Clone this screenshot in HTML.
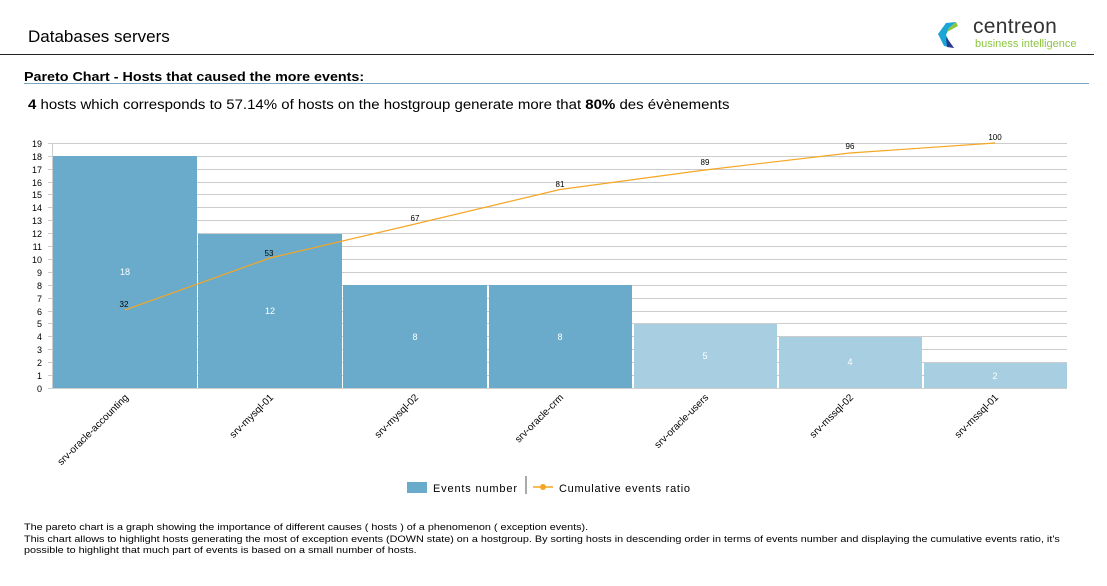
<!DOCTYPE html>
<html><head><meta charset="utf-8"><style>
body{margin:0;width:1107px;height:586px;background:#fff;font-family:"Liberation Sans",sans-serif;overflow:hidden;position:relative}
.a{position:absolute;white-space:nowrap;color:#000;transform-origin:0 0}
</style></head><body>
<div class="a" style="left:28px;top:27px;font-size:17px">Databases servers</div>
<div style="position:absolute;left:0;top:54px;width:1094px;height:1px;background:#222"></div>
<svg style="position:absolute;left:936px;top:20px" width="40" height="30" viewBox="0 0 40 30">
<path d="M20 2 L10 3 L2 14 L8 26 L18 28 L13 21 L10 15 L13 8 Z" fill="#1aa6d6"/>
<path d="M20 2 L13 8 L11 12 L22 6 Z" fill="#8cc63f"/>
<path d="M10 17 L13 21 L18 28 L11 27 Z" fill="#2b3990"/>
</svg>
<div class="a" style="left:973px;top:15px;font-size:21px;color:#333;letter-spacing:0.3px">centreon</div>
<div class="a" style="left:975px;top:38px;font-size:11px;color:#8cc63f">business intelligence</div>
<div class="a" style="left:24px;top:69px;font-size:13px;font-weight:bold;transform:scaleX(1.1)">Pareto Chart - Hosts that caused the more events:</div>
<div style="position:absolute;left:24px;top:83px;width:1065px;height:1px;background:#7aa7c4"></div>
<div class="a" style="left:28px;top:97px;font-size:13.5px;transform:scaleX(1.11)"><b>4</b> hosts which corresponds to 57.14% of hosts on the hostgroup generate more that <b>80%</b> des évènements</div>
<svg style="position:absolute;left:0;top:0" width="1107" height="586" font-family="Liberation Sans, sans-serif">
<g stroke="#ccc" stroke-width="1">
<line x1="48" x2="1067" y1="143.5" y2="143.5"/><line x1="48" x2="1067" y1="156.5" y2="156.5"/><line x1="48" x2="1067" y1="169.5" y2="169.5"/><line x1="48" x2="1067" y1="182.5" y2="182.5"/><line x1="48" x2="1067" y1="194.5" y2="194.5"/><line x1="48" x2="1067" y1="207.5" y2="207.5"/><line x1="48" x2="1067" y1="220.5" y2="220.5"/><line x1="48" x2="1067" y1="233.5" y2="233.5"/><line x1="48" x2="1067" y1="246.5" y2="246.5"/><line x1="48" x2="1067" y1="259.5" y2="259.5"/><line x1="48" x2="1067" y1="272.5" y2="272.5"/><line x1="48" x2="1067" y1="285.5" y2="285.5"/><line x1="48" x2="1067" y1="298.5" y2="298.5"/><line x1="48" x2="1067" y1="311.5" y2="311.5"/><line x1="48" x2="1067" y1="323.5" y2="323.5"/><line x1="48" x2="1067" y1="336.5" y2="336.5"/><line x1="48" x2="1067" y1="349.5" y2="349.5"/><line x1="48" x2="1067" y1="362.5" y2="362.5"/><line x1="48" x2="1067" y1="375.5" y2="375.5"/><line x1="48" x2="1067" y1="388.5" y2="388.5"/>
<line x1="52.5" x2="52.5" y1="143" y2="389"/>
</g>
<g font-size="9" fill="#000" text-anchor="end">
<text x="42" y="147">19</text><text x="42" y="160">18</text><text x="42" y="173">17</text><text x="42" y="186">16</text><text x="42" y="198">15</text><text x="42" y="211">14</text><text x="42" y="224">13</text><text x="42" y="237">12</text><text x="42" y="250">11</text><text x="42" y="263">10</text><text x="42" y="276">9</text><text x="42" y="289">8</text><text x="42" y="302">7</text><text x="42" y="315">6</text><text x="42" y="327">5</text><text x="42" y="340">4</text><text x="42" y="353">3</text><text x="42" y="366">2</text><text x="42" y="379">1</text><text x="42" y="392">0</text>
</g>
<g fill="#6aabcb">
<rect x="53" y="156" width="144" height="232"/><rect x="198" y="234" width="144" height="154"/><rect x="343" y="285" width="144" height="103"/><rect x="489" y="285" width="143" height="103"/>
</g>
<g fill="#a7cfe1">
<rect x="634" y="324" width="143" height="64"/><rect x="779" y="337" width="143" height="51"/><rect x="924" y="363" width="143" height="25"/>
</g>
<g font-size="9" fill="#fff" text-anchor="middle">
<text x="125" y="275">18</text><text x="270" y="314">12</text><text x="415" y="340">8</text><text x="560" y="340">8</text><text x="705" y="359">5</text><text x="850" y="365">4</text><text x="995" y="379">2</text>
</g>
<polyline points="125,310 270,258 415,224 560,189.5 705,170 850,153 995,143" fill="none" stroke="#f5a623" stroke-width="1.2"/>
<g font-size="8" fill="#000" text-anchor="middle">
<text x="124" y="307">32</text><text x="269" y="256">53</text><text x="415" y="221">67</text><text x="560" y="187">81</text><text x="705" y="165">89</text><text x="850" y="149">96</text><text x="995" y="140">100</text>
</g>
<g font-size="10" fill="#000" text-anchor="end">
<text transform="translate(129,398) rotate(-45)">srv-oracle-accounting</text>
<text transform="translate(274,398) rotate(-45)">srv-mysql-01</text>
<text transform="translate(419,398) rotate(-45)">srv-mysql-02</text>
<text transform="translate(564,398) rotate(-45)">srv-oracle-crm</text>
<text transform="translate(709,398) rotate(-45)">srv-oracle-users</text>
<text transform="translate(854,398) rotate(-45)">srv-mssql-02</text>
<text transform="translate(999,398) rotate(-45)">srv-mssql-01</text>
</g>
<rect x="407" y="482" width="20" height="11" fill="#6aabcb"/>
<text x="433" y="492" font-size="11" textLength="84">Events number</text>
<line x1="526" x2="526" y1="476" y2="494" stroke="#555"/>
<line x1="533" x2="553" y1="487" y2="487" stroke="#f5a623" stroke-width="1.5"/>
<circle cx="543" cy="487" r="3" fill="#f5a623"/>
<text x="559" y="492" font-size="11" textLength="131">Cumulative events ratio</text>
</svg>
<div class="a" style="left:24px;top:522px;font-size:9px;line-height:11.5px;transform:scaleX(1.2)">The pareto chart is a graph showing the importance of different causes ( hosts ) of a phenomenon ( exception events).<br>This chart allows to highlight hosts generating the most of exception events (DOWN state) on a hostgroup. By sorting hosts in descending order in terms of events number and displaying the cumulative events ratio, it's<br>possible to highlight that much part of events is based on a small number of hosts.</div>
</body></html>
